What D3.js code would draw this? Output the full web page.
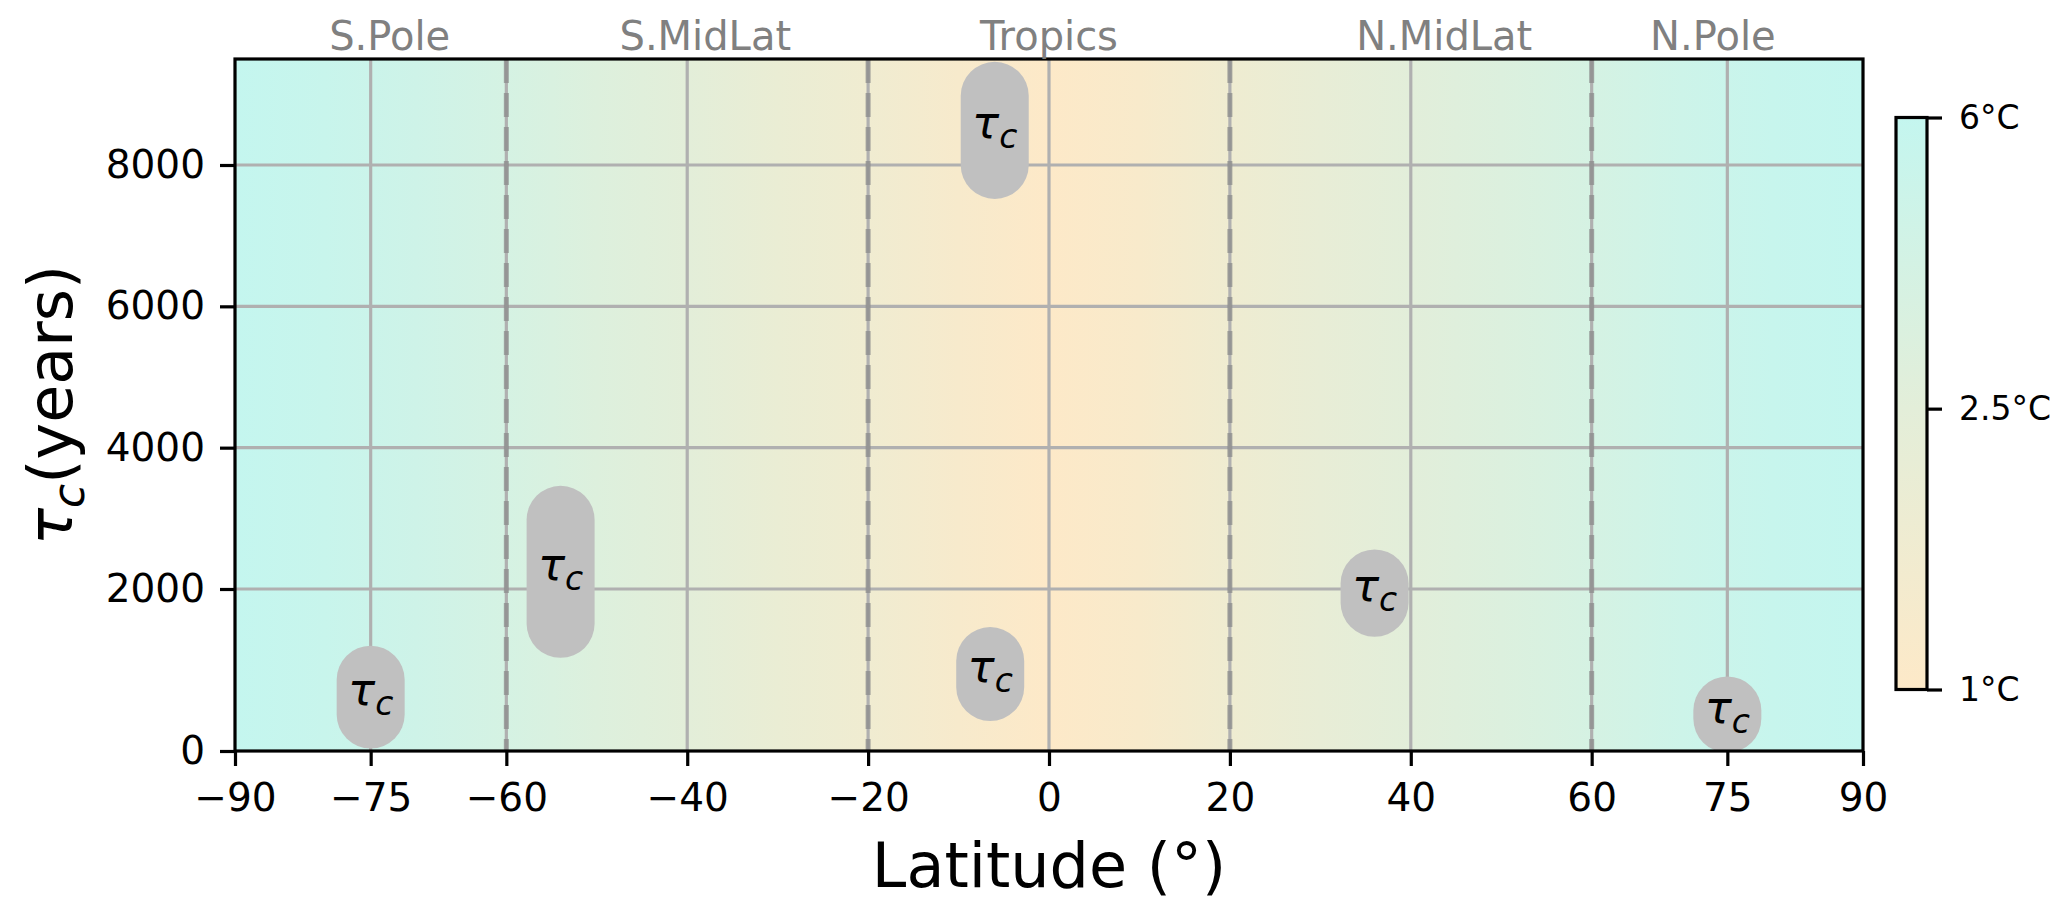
<!DOCTYPE html>
<html><head><meta charset="utf-8">
<script src="https://cdn.jsdelivr.net/npm/d3@7"></script>
<style>
body{margin:0;background:#fff}
text{font-family:"DejaVu Sans",sans-serif}
</style>
</head><body>
<svg id="chart" width="2067" height="912"></svg>
<script>
// ---------- data ----------
const xTicks = [-90,-75,-60,-40,-20,0,20,40,60,75,90];
const yTicks = [0,2000,4000,6000,8000];
const regionBounds = [-60,-20,20,60];
const regionNames = ["S.Pole","S.MidLat","Tropics","N.MidLat","N.Pole"];
const regionLabelLat = [-72.9,-38,0,43.7,73.4];
const profileLat = [-90,-80,-70,-60,-50,-40,-30,-20,-10,0,10,20,30,40,50,60,70,80,90];
const profileWarming = [6.0,5.5,4.9,4.1,3.2,2.5,2.1,1.75,1.35,1.0,1.3,1.8,2.2,2.6,3.3,4.1,5.0,5.7,6.0];
const pillLat = [-75,-54,-6,-6.5,36,75];
const pillLow = [30,1150,7520,370,1410,-20];
const pillHigh = [1300,3460,9460,1530,2560,920];
const cbTicks = [1,2.5,6];
const cbLabels = ["1°C","2.5°C","6°C"];

// ---------- layout ----------
const L = 235, R = 1863, T = 59, B = 751;
const svg = d3.select("#chart");
const x = d3.scaleLinear().domain([-90,90]).range([L,R]);
const y = d3.scaleLinear().domain([0,2000,9500]).range([B,589,T]);
const color = d3.scaleLinear().domain([1,2.5,6]).range(["#FDE9C8","#E3EED9","#C4F6EF"]);

const defs = svg.append("defs");
defs.append("clipPath").attr("id","plotclip").append("rect")
  .attr("x",L).attr("y",T).attr("width",R-L).attr("height",B-T);

// background gradient by latitude
const bg = defs.append("linearGradient").attr("id","bggrad")
  .attr("x1","0").attr("x2","1").attr("y1","0").attr("y2","0");
profileLat.forEach((lat,i)=>{
  bg.append("stop").attr("offset",(x(lat)-L)/(R-L)).attr("stop-color",color(profileWarming[i]));
});
svg.append("rect").attr("x",L).attr("y",T).attr("width",R-L).attr("height",B-T)
  .attr("fill","url(#bggrad)");

// grid
const grid = svg.append("g");
grid.selectAll("line.v").data(xTicks.filter(d=>d>-90&&d<90)).join("line")
  .attr("x1",d=>x(d)).attr("x2",d=>x(d)).attr("y1",T).attr("y2",B)
  .attr("stroke","#b0b0b0").attr("stroke-width",3.2);
grid.selectAll("line.h").data(yTicks.filter(d=>d>0)).join("line")
  .attr("x1",L).attr("x2",R).attr("y1",d=>y(d)).attr("y2",d=>y(d))
  .attr("stroke","#b0b0b0").attr("stroke-width",3.2);

// region boundaries
svg.append("g").selectAll("line").data(regionBounds).join("line")
  .attr("x1",d=>x(d)).attr("x2",d=>x(d)).attr("y1",T).attr("y2",B)
  .attr("stroke","#8c8c8c").attr("stroke-opacity",0.75).attr("stroke-width",5)
  .attr("stroke-dasharray","24,10");

// pills
const pills = svg.append("g").attr("clip-path","url(#plotclip)");
const pw = 68;
pillLat.forEach((lat,i)=>{
  const yt = y(pillHigh[i]), yb = y(pillLow[i]), h = yb-yt;
  pills.append("rect").attr("x",x(lat)-pw/2).attr("y",yt).attr("width",pw).attr("height",h)
    .attr("rx",pw/2).attr("ry",Math.min(pw/2,h/2)).attr("fill","#c0c0c0");
  const t = pills.append("text").attr("x",x(lat)).attr("y",(yt+yb)/2+8)
    .attr("text-anchor","middle").attr("font-size",45).attr("fill","#000");
  t.append("tspan").attr("font-style","italic").text("τ");
  t.append("tspan").attr("font-style","italic").attr("font-size",33).attr("dy",10).text("c");
});

// axes
const xAxis = svg.append("g").attr("transform",`translate(0,${B})`)
  .call(d3.axisBottom(x).tickValues(xTicks).tickFormat(d3.format("d")).tickSize(15).tickPadding(17).tickSizeOuter(0));
const yAxis = svg.append("g").attr("transform",`translate(${L},0)`)
  .call(d3.axisLeft(y).tickValues(yTicks).tickFormat(d3.format("d")).tickSize(15).tickPadding(15).tickSizeOuter(0));
[xAxis,yAxis].forEach(a=>{
  a.select(".domain").remove();
  a.selectAll(".tick line").attr("stroke","#000").attr("stroke-width",3.2);
  a.selectAll(".tick text").attr("font-size",39).attr("fill","#000")
    .attr("font-family","DejaVu Sans");
});

// frame
svg.append("rect").attr("x",L).attr("y",T).attr("width",R-L).attr("height",B-T)
  .attr("fill","none").attr("stroke","#000").attr("stroke-width",3.2);

// region labels
svg.append("g").selectAll("text").data(regionNames).join("text")
  .attr("x",(d,i)=>x(regionLabelLat[i])).attr("y",50).attr("text-anchor","middle")
  .attr("font-size",40).attr("fill","#808080").text(d=>d);

// axis titles
svg.append("text").attr("x",(L+R)/2).attr("y",887).attr("text-anchor","middle")
  .attr("font-size",62).attr("fill","#000").text("Latitude (°)");
const yl = svg.append("text").attr("transform",`translate(72,${(T+B)/2}) rotate(-90)`)
  .attr("text-anchor","middle").attr("font-size",62).attr("fill","#000");
yl.append("tspan").attr("font-style","italic").text("τ");
yl.append("tspan").attr("font-style","italic").attr("font-size",44).attr("dy",12).text("c");
yl.append("tspan").attr("dy",-12).text("(years)");

// colorbar
const cbL = 1896, cbW = 31, cbTop = 117.5, cbBot = 689.5;
const cb = d3.scaleLinear().domain([1,2.5,6]).range([cbBot, cbTop+0.509*(cbBot-cbTop), cbTop]);
const cg = defs.append("linearGradient").attr("id","cbgrad")
  .attr("x1","0").attr("x2","0").attr("y1","1").attr("y2","0");
cbTicks.forEach(v=>{
  cg.append("stop").attr("offset",(cbBot-cb(v))/(cbBot-cbTop)).attr("stop-color",color(v));
});
svg.append("rect").attr("x",cbL).attr("y",cbTop).attr("width",cbW).attr("height",cbBot-cbTop)
  .attr("fill","url(#cbgrad)").attr("stroke","#000").attr("stroke-width",3.2);
const cbAxis = svg.append("g").attr("transform",`translate(${cbL+cbW},0)`)
  .call(d3.axisRight(cb).tickValues(cbTicks).tickFormat((d,i)=>cbLabels[i]).tickSize(15).tickPadding(17).tickSizeOuter(0));
cbAxis.select(".domain").remove();
cbAxis.selectAll(".tick line").attr("stroke","#000").attr("stroke-width",3.2);
cbAxis.selectAll(".tick text").attr("font-size",33).attr("fill","#000").attr("font-family","DejaVu Sans");
</script>
</body></html>
